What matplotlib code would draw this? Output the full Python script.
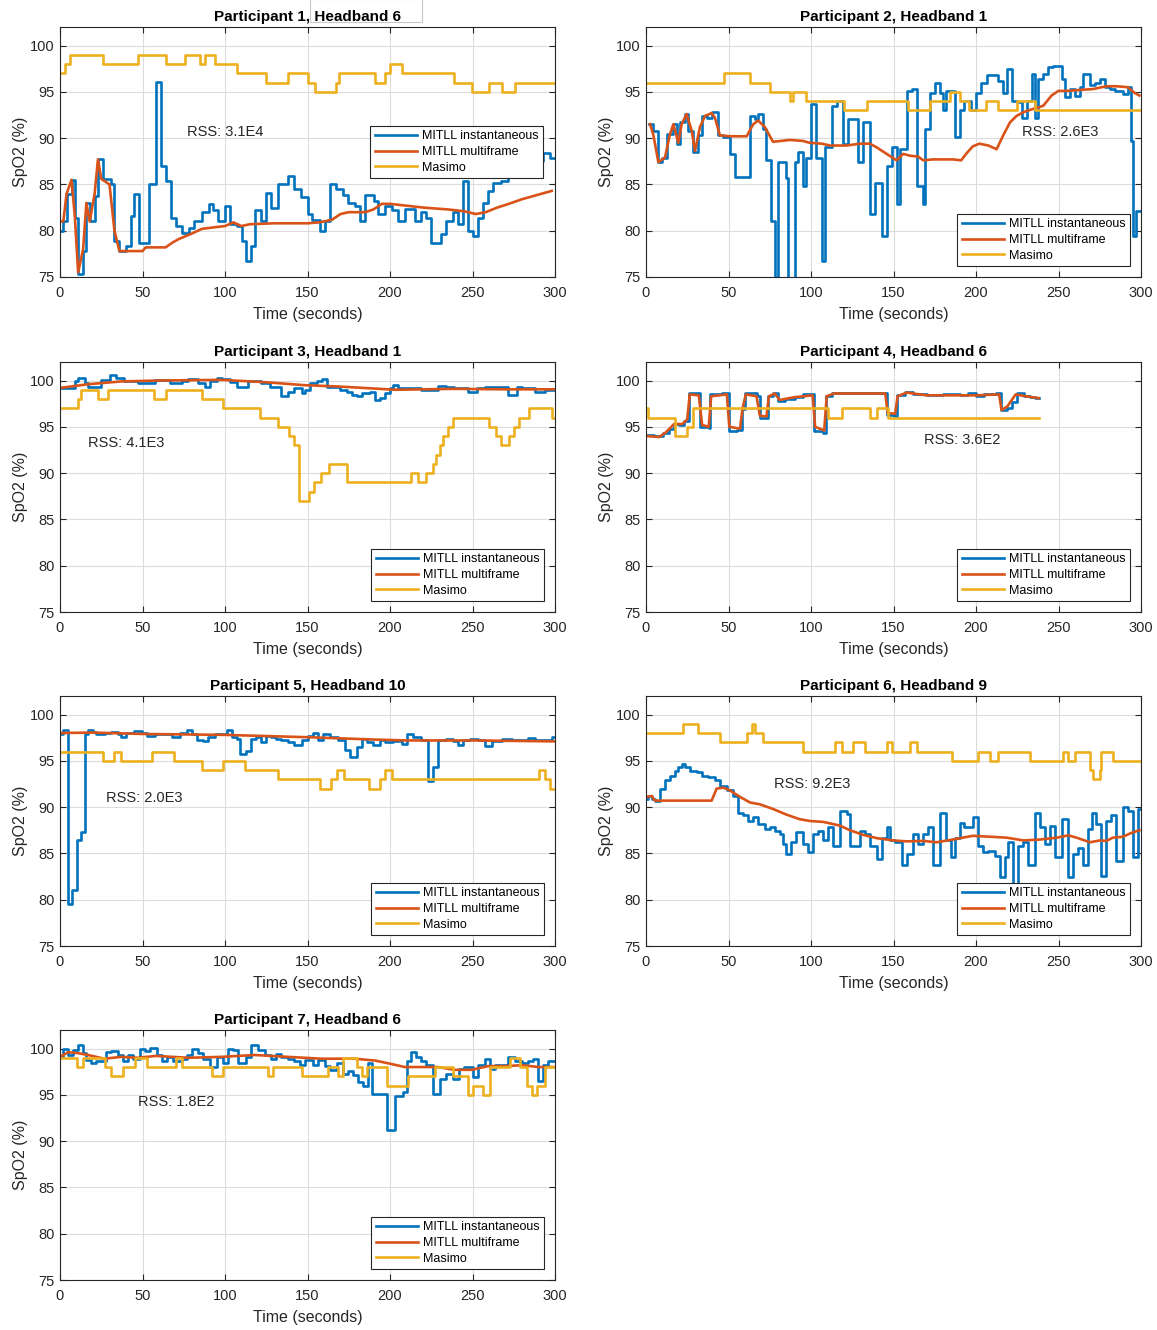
import numpy as np
import matplotlib
matplotlib.use("Agg")
import matplotlib.pyplot as plt
from matplotlib.patches import Rectangle

plt.rcParams['font.family'] = ['Liberation Sans', 'DejaVu Sans']

C_INST = '#0072BD'
C_MULTI = '#D95319'
C_MASIMO = '#EDB120'
LABELS = ['MITLL instantaneous', 'MITLL multiframe', 'Masimo']

# ---- participant 1, headband 6
p1_t_inst = [0, 2, 4, 7, 9, 11, 14, 16, 18, 21, 23, 26, 31, 33, 36, 40, 43, 45, 48, 54,
             58, 61, 64, 67, 70, 74, 78, 81, 86, 90, 93, 96, 100, 103, 107, 110, 113, 116, 118, 122,
             125, 128, 132, 138, 142, 146, 150, 153, 157.5, 160.5, 163.5, 167.5, 171.5, 174.5, 179, 182, 185, 190, 193, 197,
             201, 205, 209, 215, 219, 222, 225, 231, 234, 238, 241, 244, 247, 250, 253.5, 256.5, 259.5, 262.5, 267.5, 271.5,
             276, 284, 293, 297]
p1_inst = [80, 81, 84, 85.5, 81.4, 75.3, 77.8, 83, 81, 83.8, 87.7, 85.6, 85, 78.9, 77.8, 78.3, 81.6, 84, 78.7, 85,
           96.1, 87, 85.4, 81.4, 80.5, 79.8, 80.3, 81, 82, 82.9, 82.2, 81, 82.7, 80.7, 80.5, 78.9, 76.7, 78.3, 82.2, 81,
           84.1, 82.5, 85, 85.9, 84.5, 83.6, 81.8, 81.2, 80, 81, 85, 84.5, 83.9, 83, 82.7, 81, 83.9, 83.2, 81.8, 82.7,
           82.2, 81, 82.3, 81, 82, 81.4, 78.7, 79.6, 81, 82, 80.7, 85.4, 80, 79.4, 81.4, 83, 84.3, 85.2, 85.4, 86,
           86.5, 87.5, 88.4, 87.9]
p1_t_multi = [0, 2, 4, 7, 9, 11, 14, 16, 18, 21, 23, 25, 30, 33, 36, 50, 52, 64, 68, 72,
              80, 86, 95, 100, 105, 110, 115, 130, 150, 157, 160, 165, 170, 175, 185, 190, 195, 200, 210, 220,
              235, 245, 252, 258, 265, 272, 280, 290, 298]
p1_multi = [81, 81, 84, 85.5, 81.5, 75.5, 78, 83, 81, 84, 87.7, 85.6, 85, 80, 77.8, 77.8, 78.2, 78.2, 78.7, 79.1,
            79.7, 80.2, 80.4, 80.5, 80.9, 80.5, 80.7, 80.8, 80.8, 80.9, 81.0, 81.2, 81.8, 82.0, 82.0, 82.3, 82.9, 82.9, 82.7, 82.5,
            82.3, 82.1, 81.8, 82.0, 82.5, 82.9, 83.4, 83.9, 84.3]
p1_t_masimo = [0, 3, 6, 26, 47.5, 64, 76, 85, 88, 94, 107, 125, 138, 150, 152, 154.5, 167, 169, 191, 197,
               200, 207, 239, 249.5, 260, 268, 276]
p1_masimo = [97, 98, 99, 98, 99, 98, 99, 98, 99, 98, 97, 96, 97, 96, 96, 95, 96, 97, 96, 97,
             98, 97, 96, 95, 96, 95, 96]

# ---- participant 2, headband 1
p2_t_inst = [2, 4.4, 7.5, 9.5, 12.5, 16.6, 18.6, 20.6, 23.6, 25.7, 28.7, 31.7, 33.7, 36.8, 39.8, 43.8, 46.9, 50.9, 53.9, 63,
             66, 68, 71, 73, 76, 78, 80, 85, 86, 90, 92, 95, 97, 100, 103, 106.5, 108.5, 112.5, 115.5, 119.6,
             122.6, 128.7, 131.7, 135.7, 138.8, 142.8, 145.8, 148.9, 151.9, 153.9, 158, 161, 164, 168, 169, 172, 175, 178, 180, 182,
             187, 190, 193, 197, 200, 203, 206.4, 213.5, 216.5, 218.6, 221.6, 224.6, 227.7, 230.7, 233.7, 235.7, 237.8, 240.8, 243.8, 246.8,
             251.9, 253.9, 256.9, 260, 263, 265, 269, 272, 275, 278, 281, 284, 289, 292, 294, 295, 297]
p2_inst = [91.5, 90.8, 87.4, 87.9, 90.4, 91.5, 89.4, 91.7, 92.6, 90.8, 88.5, 90.3, 92.4, 92.2, 92.8, 90.3, 90.1, 88.3, 85.8, 92.4,
           92.1, 92.6, 91.0, 87.6, 81.1, 72, 87.4, 85.7, 72, 87.4, 88.5, 84.8, 87.9, 93.7, 87.9, 76.7, 89.0, 93.5, 94.0, 89.4,
           92.1, 87.4, 91.7, 81.8, 85.2, 79.4, 87.0, 89.0, 82.9, 88.8, 95.1, 95.3, 84.8, 82.9, 91.0, 94.9, 95.9, 94.9, 93.0, 95.1,
           90.1, 93.0, 94.0, 93.0, 94.9, 95.9, 96.8, 96.2, 94.9, 97.5, 94.0, 93.9, 92.2, 94.0, 96.9, 92.2, 96.4, 96.9, 97.7, 97.8,
           96.4, 94.4, 95.3, 94.6, 95.5, 96.9, 95.7, 96.0, 96.4, 95.5, 95.3, 95.1, 94.8, 95.5, 89.7, 79.4, 82.1]
p2_t_multi = [2.4, 4.4, 7.5, 11.5, 14.5, 16.6, 19.6, 21.6, 24.6, 27.7, 29.7, 32.7, 35.8, 39.8, 41.8, 44.8, 50.9, 61, 65, 68,
              72, 77, 87, 95, 99, 106.5, 111.5, 121.6, 129.7, 135.7, 139.8, 145.8, 151.9, 155.9, 160, 165, 168, 174, 186, 191,
              194, 198, 202, 207.5, 212.5, 216.5, 220.6, 224.6, 228.7, 233.7, 240.8, 245.8, 249.9, 255, 263, 271, 279, 285, 292, 296,
              299]
p2_multi = [91.5, 90.4, 87.4, 87.9, 90.4, 91.5, 89.5, 91.5, 92.6, 90.8, 88.6, 91.2, 92.4, 92.7, 92.2, 90.3, 90.2, 90.2, 91.5, 91.9,
            91.2, 89.6, 89.8, 89.7, 89.5, 89.4, 89.2, 89.2, 89.4, 89.4, 89.0, 88.3, 87.6, 88.3, 88.1, 88.0, 87.6, 87.7, 87.7, 87.6,
            88.3, 89.1, 89.4, 89.2, 88.8, 90.3, 91.7, 92.4, 92.8, 93.1, 93.5, 94.6, 95.1, 95.1, 95.2, 95.3, 95.6, 95.6, 95.5, 94.9,
            94.6]
p2_t_masimo = [0, 47, 63, 75, 87, 89, 97, 120, 134, 159, 172, 184, 190, 196, 206, 213.5, 225, 236]
p2_masimo = [96, 97, 96, 95, 94, 95, 94, 93, 94, 93, 94, 95, 94, 93, 94, 93, 94, 93]

# ---- participant 3, headband 1
p3_t_inst = [0, 9, 11, 15, 17, 25, 30, 34, 39, 47.5, 57.5, 66.7, 73.7, 77.8, 83.8, 87.9, 90.9, 95, 98, 103,
             107, 114, 122, 127, 134, 138, 142, 146.5, 148.5, 151.5, 155.5, 158.6, 161.6, 169.7, 173.7, 176.8, 179.8, 182.8, 187.9, 190.9,
             193.9, 197, 200, 202, 205, 219, 229, 234, 239, 247.5, 252.5, 257.5, 263.6, 271.7, 276.7, 279.8, 287.9, 294]
p3_inst = [99.2, 99.9, 100.25, 99.7, 99.35, 100.1, 100.6, 100.25, 99.9, 99.7, 100.1, 99.7, 99.9, 100.2, 99.7, 99.35, 99.9, 100.25, 100.2, 99.8,
           99.35, 99.9, 99.7, 99.35, 98.3, 98.8, 99.2, 98.6, 99.0, 99.7, 99.95, 100.2, 99.35, 99.0, 98.8, 98.45, 98.3, 98.6, 98.8, 97.9,
           98.1, 98.6, 99.2, 99.5, 99.2, 99.0, 99.45, 99.25, 99.2, 98.8, 99.2, 99.35, 99.25, 98.45, 99.35, 99.2, 98.8, 99.0]
p3_t_multi = [0, 17, 37, 60, 98, 126, 148, 169, 189, 203, 239, 270, 300]
p3_multi = [99.2, 99.6, 99.9, 100.0, 100.07, 99.8, 99.5, 99.35, 99.15, 99.0, 99.1, 99.05, 99.05]
p3_t_masimo = [0, 11, 13, 23, 29, 57, 64, 86, 99, 121, 132, 139, 142, 145, 151, 154, 158, 163, 174, 213,
               217, 222, 226, 228, 230, 232, 235, 238, 260, 264, 267, 272, 275, 278, 284, 298]
p3_masimo = [97, 98, 99, 98, 99, 98, 99, 98, 97, 96, 95, 94, 93, 87, 88, 89, 90, 91, 89, 90,
             89, 90, 91, 92, 93, 94, 95, 96, 95, 94, 93, 94, 95, 96, 97, 96]

# ---- participant 4, headband 6 (recording ends early)
p4_t_inst = [0, 5, 10, 14, 17, 20, 23, 26, 33, 38, 39, 46, 50, 55, 58, 60, 67, 69, 74, 77,
             80, 84, 90, 95, 102, 107, 109, 113, 125, 130, 140, 146, 150, 152, 157, 162, 170, 180, 190, 195,
             200, 205, 212, 215, 219, 222, 225, 229, 233, 236]
p4_inst = [94.1, 94.0, 94.3, 94.8, 95.3, 95.2, 95.6, 98.6, 95.0, 94.9, 98.5, 98.6, 94.6, 94.7, 96.9, 98.6, 98.3, 96.0, 98.3, 98.7,
           97.8, 98.0, 98.2, 98.5, 94.5, 94.3, 98.3, 98.7, 98.6, 98.7, 98.6, 96.3, 96.2, 98.4, 98.8, 98.5, 98.4, 98.5, 98.4, 98.6,
           98.3, 98.5, 98.6, 96.8, 97.0, 97.7, 98.7, 98.3, 98.2, 98.1]
p4_t_multi = [0, 8, 12, 17, 22, 25, 26.5, 32, 34, 38, 39.5, 49, 50.5, 57, 58.5, 60.5, 67, 69, 73, 74.5,
              78, 81, 90, 101, 102.5, 108, 109.5, 114, 145, 146.5, 151, 152.5, 158, 170, 190, 200, 214, 215.5, 219, 224,
              230, 238]
p4_multi = [94.0, 93.9, 94.4, 95.3, 95.3, 95.8, 98.5, 98.4, 95.2, 95.0, 98.3, 98.5, 95.0, 94.8, 97.0, 98.5, 98.3, 96.2, 96.1, 98.3,
            98.6, 97.9, 98.2, 98.4, 95.0, 94.6, 98.3, 98.6, 98.6, 96.5, 96.4, 98.3, 98.7, 98.4, 98.4, 98.4, 98.5, 96.8, 97.2, 98.5,
            98.3, 98.1]
p4_t_masimo = [0, 1.4, 17.6, 24.6, 28.7, 110.5, 118.6, 135.7, 139.8, 146.9]
p4_masimo = [97, 96, 94, 95, 97, 96, 97, 96, 97, 96]

# ---- participant 5, headband 10
p5_t_inst = [0, 2, 5, 7, 10, 13, 15, 17, 20, 22, 27, 31, 35, 37, 40, 45, 49.5, 52.5, 57.5, 63.6,
             67.7, 72.7, 76.8, 79.8, 82.8, 86.9, 89.9, 93.9, 98, 101, 104, 107, 109, 113, 116, 119, 122, 125, 128, 131,
             134, 138, 142, 146.5, 150.5, 153.5, 156.5, 159.6, 163.6, 168.7, 172.7, 175.7, 179.8, 182.8, 185.8, 189.9, 193.9, 197, 202, 207,
             210, 214, 219, 223, 226, 229, 234, 238, 241, 244, 248.5, 253.5, 257.5, 261.6, 267.6, 273.7, 278.8, 283.8, 287.9, 294,
             298]
p5_inst = [97.9, 98.3, 79.5, 81.0, 86.5, 87.3, 97.9, 98.3, 98.1, 97.9, 98.0, 98.1, 97.9, 97.6, 98.0, 98.2, 98.0, 97.7, 97.85, 97.9,
           97.6, 98.0, 98.3, 97.9, 97.3, 97.1, 97.6, 97.9, 97.9, 98.3, 97.6, 97.4, 95.7, 96.1, 97.4, 97.55, 97.0, 97.7, 97.55, 97.4,
           97.3, 97.0, 96.75, 97.2, 97.7, 98.0, 97.3, 97.85, 97.6, 97.2, 96.2, 95.4, 96.5, 97.4, 97.0, 96.75, 97.2, 97.0, 97.1, 96.8,
           97.9, 97.6, 97.2, 92.8, 94.3, 97.3, 97.4, 97.1, 96.75, 97.2, 97.4, 97.2, 96.65, 97.1, 97.4, 97.2, 97.3, 97.5, 97.2, 97.3,
           97.55]
p5_t_multi = [0, 20, 50, 100, 150, 190, 210, 250, 300]
p5_multi = [98.0, 98.05, 97.9, 97.8, 97.55, 97.3, 97.2, 97.2, 97.1]
p5_t_masimo = [0, 26, 33, 37, 55.5, 69, 86, 99, 112, 132, 157.5, 164.5, 168, 172, 187, 194, 197, 201, 290, 294, 297]
p5_masimo = [96, 95, 96, 95, 96, 95, 94, 95, 94, 93, 92, 93, 94, 93, 92, 93, 94, 93, 94, 93, 92]

# ---- participant 6, headband 9
p6_t_inst = [0, 1.4, 3.4, 5.5, 8.5, 11.5, 14.5, 17.6, 19.6, 21.6, 23.6, 26.7, 30.7, 33.7, 37.8, 41.8, 44.8, 48.9, 52.9, 56,
             59, 62, 65, 68, 72, 75, 78, 81, 83, 85, 88, 91, 95, 98.4, 101.4, 104.4, 107.5, 110.5, 113.5, 117.6,
             121.6, 123.6, 129.7, 132.7, 135.7, 139.8, 142.8, 145.8, 147.9, 150.9, 155, 158, 162, 165, 168, 171, 174, 178, 182, 185,
             187, 190, 193, 198, 201, 204, 207.5, 211.5, 214.5, 217.5, 219.6, 222.6, 225.6, 228.7, 231.7, 235.7, 238.8, 241.8, 244.8, 247.9,
             251.9, 255.9, 259, 262, 265, 268, 270, 273, 276, 279, 282, 285, 289, 292, 295, 298]
p6_inst = [90.9, 91.2, 90.9, 90.7, 92.0, 92.9, 93.4, 93.9, 94.3, 94.7, 94.3, 93.9, 93.8, 93.4, 93.3, 92.9, 92.3, 91.8, 91.2, 89.4,
           89.1, 88.5, 88.9, 88.2, 87.6, 87.8, 87.4, 87.1, 86.0, 84.9, 86.2, 87.3, 86.0, 85.1, 87.1, 87.4, 86.4, 87.8, 85.8, 89.6,
           89.3, 85.8, 87.4, 87.1, 85.8, 84.4, 86.7, 87.8, 86.5, 86.2, 83.8, 84.9, 87.1, 86.0, 87.1, 87.8, 83.8, 89.4, 86.4, 84.6,
           86.7, 88.3, 87.8, 88.9, 85.8, 85.1, 85.3, 84.7, 82.4, 84.6, 86.2, 81.7, 85.8, 86.2, 83.7, 89.4, 87.8, 86.0, 88.0, 84.6,
           88.7, 82.4, 84.9, 85.6, 83.7, 87.6, 89.4, 88.2, 82.6, 88.5, 89.1, 84.2, 90.0, 89.6, 84.6, 89.8]
p6_t_multi = [0, 3.4, 5.5, 39.8, 42.8, 46.9, 50.9, 57, 63, 69, 77, 85, 93, 99.4, 107.5, 117.6, 123.6, 131.7, 139.8, 149.9,
              158, 168, 176, 186, 198, 208.5, 218.6, 228.7, 238.8, 248.9, 256, 261, 269, 275, 279, 283, 289, 294, 299]
p6_multi = [91.1, 91.2, 90.7, 90.7, 92.0, 92.1, 91.8, 91.1, 90.5, 90.3, 89.8, 89.2, 88.7, 88.5, 88.4, 88.0, 87.5, 87.0, 86.65, 86.4,
            86.3, 86.35, 86.2, 86.5, 86.9, 86.8, 86.7, 86.4, 86.5, 86.7, 86.95, 86.7, 86.2, 86.4, 86.35, 86.7, 86.8, 87.2, 87.5]
p6_t_masimo = [0, 22.6, 31.7, 44.8, 61, 64, 66, 71, 95.3, 114.5, 118.6, 125.6, 132.7, 145.8, 148.9, 160, 164, 185.2, 201.4, 208.5,
               213.5, 232.7, 252.9, 255.9, 260, 269, 271, 275, 276, 283.2]
p6_masimo = [98, 99, 98, 97, 98, 99, 98, 97, 96, 97, 96, 97, 96, 97, 96, 97, 96, 95, 96, 95,
             96, 95, 96, 95, 96, 94, 93, 94, 96, 95]

# ---- participant 7, headband 6
p7_t_inst = [0, 2, 5, 8, 11, 14, 16, 19, 22, 28, 31, 35, 38, 41, 44, 48.5, 51.5, 54.5, 58.6, 61.6,
             64.6, 68.7, 73.7, 76.8, 79.8, 83.8, 86.9, 90.9, 95, 99, 102, 105, 108, 113, 116, 120, 124, 128, 131, 134,
             138, 142, 145.5, 148.5, 153.5, 156.5, 160.6, 163.6, 167.7, 171.7, 174.7, 177.8, 180.8, 183.8, 186.9, 188.9, 198, 203, 208, 210,
             213, 216, 219, 222, 226, 230, 234, 238, 242, 245, 250.5, 253.5, 257.5, 260.5, 263.6, 271.7, 275.7, 279.8, 283.8, 286.8,
             289.9, 292.9, 295.9]
p7_inst = [99.1, 100.0, 99.3, 99.8, 100.4, 99.5, 98.8, 98.45, 98.7, 99.6, 99.7, 99.3, 98.7, 99.3, 98.9, 100.0, 99.75, 100.1, 99.3, 98.6,
           99.1, 98.6, 98.9, 99.3, 100.0, 99.5, 98.9, 98.0, 99.1, 98.4, 100.0, 99.8, 98.4, 99.1, 100.4, 99.8, 99.3, 98.9, 99.4, 99.1,
           98.9, 98.6, 98.2, 98.8, 98.2, 98.8, 98.1, 97.65, 98.4, 97.3, 97.6, 97.1, 96.4, 96.0, 98.4, 95.1, 91.2, 94.9, 95.3, 98.6,
           99.6, 99.1, 98.7, 98.2, 95.1, 96.75, 97.3, 96.75, 97.8, 98.0, 96.9, 98.2, 98.9, 97.8, 98.2, 99.1, 98.7, 98.4, 98.6, 98.9,
           96.5, 98.2, 98.6]
p7_t_multi = [0, 5, 11, 17, 27, 37, 47.5, 58, 68, 78, 98, 118, 138, 158.5, 170.5, 178.5, 191, 199, 209, 219,
              229, 239, 249.5, 259.5, 270, 280, 290, 300]
p7_multi = [99.1, 99.6, 99.5, 99.3, 98.9, 99.1, 99.0, 99.2, 99.1, 99.0, 99.1, 99.3, 99.1, 98.9, 98.9, 98.9, 98.7, 98.4, 98.0, 98.0,
            98.0, 97.7, 97.7, 98.1, 98.1, 98.2, 98.0, 98.0]
p7_t_masimo = [0, 10, 14, 27, 31, 38, 45.5, 52.5, 70, 74, 92, 99, 126, 129, 146.5, 162.6, 168.7, 171.7, 179.8, 182.8,
               185.8, 198, 211, 227, 238, 247.5, 250.5, 256.5, 260.6, 272.7, 278.8, 282.8, 285.8, 289, 294]
p7_masimo = [99, 98, 99, 98, 97, 98, 99, 98, 99, 98, 97, 98, 97, 98, 97, 98, 97, 99, 98, 97,
             98, 96, 97, 98, 97, 95, 96, 95, 98, 99, 98, 96, 95, 96, 98]

rss_labels = ['RSS: 3.1E4', 'RSS: 2.6E3', 'RSS: 4.1E3', 'RSS: 3.6E2', 'RSS: 2.0E3', 'RSS: 9.2E3', 'RSS: 1.8E2']
titles = ['Participant 1, Headband 6', 'Participant 2, Headband 1', 'Participant 3, Headband 1',
          'Participant 4, Headband 6', 'Participant 5, Headband 10', 'Participant 6, Headband 9',
          'Participant 7, Headband 6']


def stairs(ax, t, v, t_end, **kw):
    # hold the last sample until the end of the recording
    tt = np.append(np.asarray(t, float), t_end)
    vv = np.append(np.asarray(v, float), v[-1])
    return ax.step(tt, vv, where='post', **kw)


def panel(ax, title, t_inst, inst, t_multi, multi, t_mas, mas, t_end, rss, rss_pos, leg_anchor):
    l1, = stairs(ax, t_inst, inst, t_end, color=C_INST, lw=1.9)
    l2, = ax.plot(t_multi, multi, color=C_MULTI, lw=1.9)
    l3, = stairs(ax, t_mas, mas, t_end, color=C_MASIMO, lw=1.9)
    ax.set_xlim(0, 300)
    ax.set_ylim(75, 102)
    ax.set_xticks(np.arange(0, 301, 50))
    ax.set_yticks(np.arange(75, 101, 5))
    ax.grid(True, color='#dcdcdc', lw=0.8)
    ax.set_axisbelow(True)
    ax.tick_params(direction='in', top=True, right=True, length=4, width=0.8,
                   labelsize=10.5, colors='#262626')
    ax.tick_params(axis='x', pad=6.5)
    ax.tick_params(axis='y', pad=4)
    for s in ax.spines.values():
        s.set_color('#262626')
        s.set_linewidth(0.8)
    ax.set_xlabel('Time (seconds)', fontsize=11.5, color='#262626', labelpad=5)
    ax.set_ylabel('SpO2 (%)', fontsize=11.5, color='#262626', labelpad=1)
    ax.set_title(title, fontsize=11, fontweight='bold', pad=4)
    ax.text(rss_pos[0], rss_pos[1], rss, fontsize=10.5, color='#262626', ha='left', va='center')
    leg = ax.legend([l1, l2, l3], LABELS, loc='lower right', bbox_to_anchor=leg_anchor,
                    borderaxespad=0, fontsize=9, handlelength=3.4, borderpad=0.35, labelspacing=0.3,
                    handletextpad=0.4, fancybox=False, framealpha=1, edgecolor='#262626')
    leg.get_frame().set_linewidth(0.8)
    leg.set_zorder(10)


fig = plt.figure(figsize=(11.57, 13.3), dpi=100)
W, H = 1157, 1330
lefts = [60, 646]
tops = [27, 362, 696, 1030]


def add_axes(col, row):
    return fig.add_axes([lefts[col] / W, (H - tops[row] - 250) / H, 495 / W, 250 / H])


ax1 = add_axes(0, 0)
panel(ax1, titles[0], p1_t_inst, p1_inst, p1_t_multi, p1_multi, p1_t_masimo, p1_masimo, 300,
      rss_labels[0], (77, 90.7), (0.976, 0.396))
ax2 = add_axes(1, 0)
panel(ax2, titles[1], p2_t_inst, p2_inst, p2_t_multi, p2_multi, p2_t_masimo, p2_masimo, 300,
      rss_labels[1], (228, 90.7), (0.978, 0.044))
ax3 = add_axes(0, 1)
panel(ax3, titles[2], p3_t_inst, p3_inst, p3_t_multi, p3_multi, p3_t_masimo, p3_masimo, 300,
      rss_labels[2], (17, 93.3), (0.978, 0.044))
ax4 = add_axes(1, 1)
panel(ax4, titles[3], p4_t_inst, p4_inst, p4_t_multi, p4_multi, p4_t_masimo, p4_masimo, 238,
      rss_labels[3], (168.5, 93.6), (0.978, 0.044))
ax5 = add_axes(0, 2)
panel(ax5, titles[4], p5_t_inst, p5_inst, p5_t_multi, p5_multi, p5_t_masimo, p5_masimo, 300,
      rss_labels[4], (28, 91.0), (0.978, 0.044))
ax6 = add_axes(1, 2)
panel(ax6, titles[5], p6_t_inst, p6_inst, p6_t_multi, p6_multi, p6_t_masimo, p6_masimo, 300,
      rss_labels[5], (77.5, 92.5), (0.978, 0.044))
ax7 = add_axes(0, 3)
panel(ax7, titles[6], p7_t_inst, p7_inst, p7_t_multi, p7_multi, p7_t_masimo, p7_masimo, 300,
      rss_labels[6], (47, 94.2), (0.978, 0.044))

# stray text box left over around the first title, kept behind the title text
fig.patches.append(Rectangle((310 / W, (H - 22) / H), 112 / W, 23 / H, transform=fig.transFigure,
                             facecolor='white', edgecolor='#c8c8c8', lw=0.8, zorder=-1))

fig.savefig('out.png', dpi=100)
